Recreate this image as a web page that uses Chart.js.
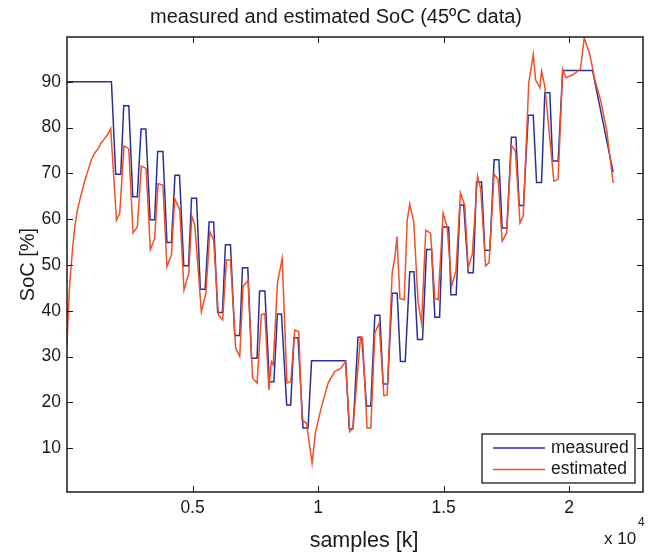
<!DOCTYPE html>
<html>
<head>
<meta charset="utf-8">
<script src="https://cdn.jsdelivr.net/npm/chart.js@4.4.0/dist/chart.umd.min.js"></script>
<style>
  html, body { margin: 0; padding: 0; background: #fff; }
  canvas { display: block; }
</style>
</head>
<body>
<canvas id="socChart" width="657" height="554"></canvas>
<script>
// measured SoC, sample index / percent
const measuredX = [0, 1770, 1940, 2140, 2260, 2460, 2620, 2800, 2950, 3140, 3310, 3490, 3610, 3820,
  3980, 4160, 4300, 4480, 4650, 4840, 4960, 5160, 5310, 5500, 5660, 5840, 6000, 6190, 6310, 6510,
  6680, 6880, 6990, 7200, 7350, 7570, 7670, 7880, 8060, 8240, 8380, 8540, 8750, 8910, 9040, 9200,
  9400, 9600, 9740, 11100, 11240, 11390, 11590, 11740, 11930, 12100, 12260, 12460, 12590, 12770,
  12950, 13150, 13280, 13470, 13650, 13820, 13960, 14160, 14320, 14520, 14650, 14840, 14960, 15200,
  15290, 15500, 15650, 15800, 15980, 16180, 16310, 16510, 16640, 16840, 17010, 17200, 17330, 17520,
  17700, 17880, 18010, 18180, 18370, 18570, 18700, 18900, 19030, 19230, 19340, 19560, 19740, 20930, 21750];
const measuredY = [90, 90, 69.8, 69.8, 84.8, 84.8, 64.9, 64.9, 79.7, 79.7, 59.9, 59.9, 74.8, 74.8,
  54.9, 54.9, 69.6, 69.6, 49.8, 49.8, 64.6, 64.6, 44.7, 44.7, 59.4, 59.4, 39.6, 39.6, 54.4, 54.4,
  34.6, 34.6, 49.4, 49.4, 29.6, 29.6, 44.3, 44.3, 24.5, 24.5, 39.3, 39.3, 19.4, 19.4, 34.1, 34.1,
  14.4, 14.4, 29.1, 29.1, 14.2, 14.2, 34.2, 34.2, 19.2, 19.2, 39, 39, 24, 24,
  43.8, 43.8, 28.9, 28.9, 48.5, 48.5, 33.7, 33.7, 53.4, 53.4, 38.6, 38.6, 58.3, 58.3,
  43.5, 43.5, 63.1, 63.1, 48.3, 48.3, 68.1, 68.1, 53.2, 53.2, 73, 73, 58.1, 58.1,
  77.9, 77.9, 63, 63, 82.7, 82.7, 68, 68, 87.6, 87.6, 72.7, 72.7, 92.5, 92.5, 70.3];

// estimated SoC
const estimatedX = [0, 50, 110, 150, 230, 310, 410, 510, 710, 830, 970, 1100, 1240, 1340, 1500, 1620, 1740,
  1970, 2100, 2270, 2460, 2630, 2800, 2960, 3150, 3320, 3490, 3630, 3820,
  3980, 4160, 4290, 4490, 4660, 4850, 4970, 5090, 5350, 5530, 5690, 5840, 6030, 6200, 6350, 6510,
  6720, 6880, 7010, 7210, 7390, 7570, 7740, 7880, 8040, 8140, 8210, 8380, 8570, 8760, 8910, 9070, 9230,
  9360, 9540, 9760, 9900, 10140, 10400, 10660, 10900, 11090, 11260, 11390, 11690, 11770, 11950, 12100,
  12260, 12430, 12620, 12750, 12950, 13060, 13140, 13260, 13430, 13550, 13650, 13810, 13980, 14120,
  14290, 14480, 14650, 14780, 14980, 15140, 15320, 15490, 15670, 15840, 15980, 16140, 16350, 16480,
  16670, 16810, 17010, 17170, 17330, 17510, 17700, 17860, 18040, 18170, 18390, 18570, 18660, 18830,
  18900, 19030, 19390, 19560, 19740, 19870, 20160, 20450, 20600, 20820, 21020, 21260, 21490, 21750];
const estimatedY = [32.3, 40, 46, 48.9, 54, 58.3, 61.8, 64.2, 68.5, 70.5, 73, 74.4, 75.4, 76.5, 77.6, 78.5, 79.8,
  59.8, 61.3, 76, 75.4, 57, 58.3, 71.6, 71.1, 53.3, 55.8, 67.8, 67.4,
  49.6, 52.2, 64.5, 62, 44.5, 48.2, 60.7, 58.7, 39.8, 43.8, 57.3, 55.4, 39.1, 38, 51.1, 51.1,
  31.8, 30, 45.3, 46.6, 25.3, 24.2, 39.1, 39.4, 22.7, 28.9, 28.2, 46, 51.4, 24.2, 24.5, 35.8, 35.4,
  16.2, 15.4, 6.7, 13.6, 19.1, 24.2, 26.7, 27.4, 28.9, 13.6, 14.4, 34.3, 34, 14.4, 14.4,
  35.1, 37.3, 21.4, 21.6, 48.2, 51.8, 56.2, 42.7, 42.4, 59.8, 63.3, 59.4, 42, 37.3,
  57.6, 56.9, 42.7, 42.4, 61.3, 58.3, 45.4, 48.7, 65.8, 63, 49.4, 52.3, 69.4, 66.5,
  49.8, 50.5, 69.8, 68.7, 55.2, 57, 76.1, 74.9, 59.2, 60.7, 89.8, 96, 90.5, 88.7,
  92.3, 89, 68.3, 68.7, 92.7, 90.9, 91.6, 92.8, 99.6, 96, 90.5, 85.8, 79.6, 67.9];

const xTickValues = [5000, 10000, 15000, 20000];
const xTickLabels = ['0.5', '1', '1.5', '2'];
const yTickValues = [10, 20, 30, 40, 50, 60, 70, 80, 90];
const seriesNames = ['measured', 'estimated'];
const seriesColors = ['#2b3193', '#f0502a'];
const titleText = 'measured and estimated SoC (45ºC data)';
const xLabelText = 'samples [k]';

const FONT = "'Liberation Sans', Arial, Helvetica, sans-serif";
const INK = '#1a1a1a';

function toPoints(xs, ys) {
  return xs.map((x, i) => ({ x: x, y: ys[i] }));
}

// box around the axes, inward ticks, legend, title and x label
const axisFrame = {
  id: 'axisFrame',
  afterDatasetsDraw(chart) {
    const { ctx, chartArea: a, scales } = chart;
    ctx.save();
    ctx.strokeStyle = INK;
    ctx.lineWidth = 1;
    ctx.beginPath();
    scales.x.ticks.forEach(t => {
      const px = Math.round(scales.x.getPixelForValue(t.value)) + 0.5;
      ctx.moveTo(px, a.bottom); ctx.lineTo(px, a.bottom - 6);
      ctx.moveTo(px, a.top); ctx.lineTo(px, a.top + 6);
    });
    scales.y.ticks.forEach(t => {
      const py = Math.round(scales.y.getPixelForValue(t.value)) + 0.5;
      ctx.moveTo(a.left, py); ctx.lineTo(a.left + 6, py);
      ctx.moveTo(a.right, py); ctx.lineTo(a.right - 6, py);
    });
    ctx.stroke();
    ctx.lineWidth = 1.5;
    ctx.strokeRect(a.left, a.top, a.right - a.left, a.bottom - a.top);
    ctx.restore();
  },
  afterDraw(chart) {
    const { ctx, chartArea: a } = chart;
    ctx.save();
    // legend box, lower right inside the axes
    const bx = a.right - 161, by = a.bottom - 58, bw = 153, bh = 49;
    ctx.fillStyle = '#fff';
    ctx.fillRect(bx, by, bw, bh);
    ctx.strokeStyle = INK;
    ctx.lineWidth = 1.3;
    ctx.strokeRect(bx, by, bw, bh);
    ctx.font = '17.5px ' + FONT;
    ctx.textBaseline = 'middle';
    ctx.textAlign = 'left';
    chart.data.datasets.forEach((ds, i) => {
      const ly = by + 14 + i * 21.5;
      ctx.strokeStyle = ds.borderColor;
      ctx.lineWidth = 1.5;
      ctx.beginPath();
      ctx.moveTo(bx + 11, ly); ctx.lineTo(bx + 63, ly);
      ctx.stroke();
      ctx.fillStyle = INK;
      ctx.fillText(ds.label, bx + 69, ly);
    });
    // exponent note under the x axis
    ctx.fillStyle = INK;
    ctx.font = '17px ' + FONT;
    ctx.fillText('x 10', a.right - 39, 539);
    ctx.font = '12px ' + FONT;
    ctx.fillText('4', a.right - 5, 523);
    // title and x label
    ctx.textAlign = 'center';
    ctx.font = '20px ' + FONT;
    ctx.fillText(titleText, 336, 17);
    ctx.font = '21.5px ' + FONT;
    ctx.fillText(xLabelText, 364, 541);
    ctx.restore();
  }
};

new Chart(document.getElementById('socChart'), {
  type: 'line',
  data: {
    datasets: [{
      label: seriesNames[0],
      data: toPoints(measuredX, measuredY),
      borderColor: seriesColors[0],
      borderWidth: 1.5,
      pointRadius: 0,
      tension: 0,
      order: 1
    }, {
      label: seriesNames[1],
      data: toPoints(estimatedX, estimatedY),
      borderColor: seriesColors[1],
      borderWidth: 1.5,
      pointRadius: 0,
      tension: 0,
      order: 0
    }]
  },
  options: {
    responsive: false,
    animation: false,
    devicePixelRatio: 1,
    layout: { padding: { left: 0, right: 14, top: 37, bottom: 0 } },
    scales: {
      x: {
        type: 'linear',
        min: 0,
        max: 22940,
        afterBuildTicks: scale => { scale.ticks = xTickValues.map(v => ({ value: v })); },
        afterFit: scale => { scale.height = 62; },
        grid: { display: false, drawTicks: false },
        border: { display: false },
        ticks: {
          padding: 6,
          color: INK,
          font: { family: FONT, size: 17.5 },
          maxRotation: 0,
          callback: (val) => xTickLabels[xTickValues.indexOf(val)]
        }
      },
      y: {
        min: 0.4,
        max: 99.8,
        afterBuildTicks: scale => { scale.ticks = yTickValues.map(v => ({ value: v })); },
        afterFit: scale => { scale.width = 67; },
        grid: { display: false, drawTicks: false },
        border: { display: false },
        ticks: {
          padding: 6,
          color: INK,
          font: { family: FONT, size: 17.5 }
        },
        title: {
          display: true,
          text: 'SoC [%]',
          color: INK,
          font: { family: FONT, size: 20 },
          padding: { top: 16, bottom: 0 }
        }
      }
    },
    plugins: {
      legend: { display: false },
      tooltip: { enabled: false },
      title: { display: false }
    }
  },
  plugins: [axisFrame]
});
</script>
</body>
</html>
